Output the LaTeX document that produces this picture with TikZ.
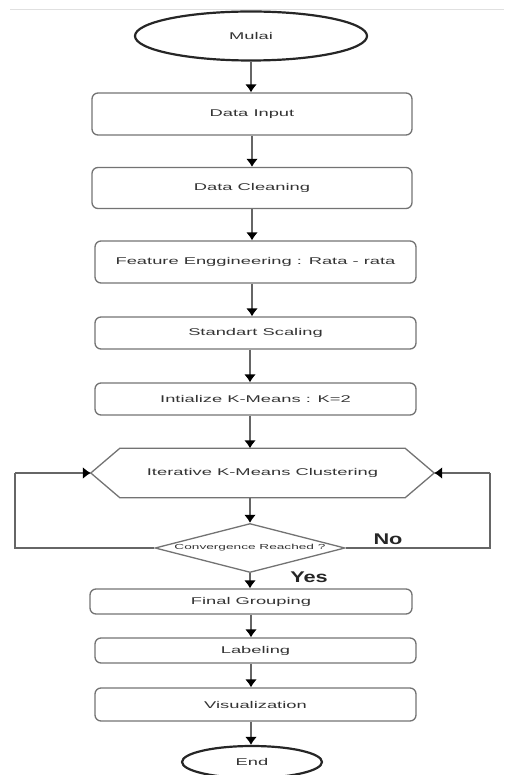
\documentclass[tikz,border=0pt]{standalone}
\usepackage{fontspec}
\setmainfont{Liberation Sans}[FakeStretch=1.87]
\newfontfamily\lblfont{Liberation Sans}[FakeStretch=1.4]
\usetikzlibrary{shapes.geometric, arrows.meta}

\begin{document}
\begin{tikzpicture}[x=1pt, y=1pt,
        box/.style={draw=black!55, line width=1.3pt, rounded corners=6pt, minimum width=321pt, inner sep=0pt, text=black!80, font=\fontsize{9.8}{11}\selectfont},
        term/.style={ellipse, draw=black!85, line width=2.2pt, inner sep=0pt, text=black!80, font=\fontsize{9.8}{11}\selectfont},
        arr/.style={draw=black!60, line width=1.8pt, -{Latex[length=8pt, width=12pt, color=black]}},
        loopline/.style={draw=black!60, line width=1.4pt},
        answer/.style={font=\lblfont\bfseries\fontsize{15.5}{17}\selectfont, text=black!85}]
        \useasboundingbox (0,0) rectangle (504,-775);
        \draw[black!12, line width=0.8pt] (10,-9) -- (504,-9);

        %start, steps, end
        \node[term, minimum width=232pt, minimum height=49pt] (start) at (251,-36) {Mulai};
        \node[box, minimum width=320pt, minimum height=42pt] (input) at (252,-114) {Data Input};
        \node[box, minimum width=320pt, minimum height=41pt] (clean) at (252,-188) {Data Cleaning};
        \node[box, minimum height=42pt] (feat) at (255.5,-262) {Feature Enggineering : Rata - rata};
        \node[box, minimum height=32pt] (scale) at (255.5,-333) {Standart Scaling};
        \node[box, minimum height=32pt] (init) at (255.5,-399) {Intialize K-Means : K=2};

        %hexagon
        \node[minimum width=343pt, minimum height=49pt, inner sep=0pt, text=black!80, font=\fontsize{9.8}{11}\selectfont] (iter) at (262.5,-473) {Iterative K-Means Clustering};
        \draw[black!55, line width=1.3pt] (iter.west) -- ([xshift=29pt]iter.north west) -- ([xshift=-29pt]iter.north east)
            -- (iter.east) -- ([xshift=-29pt]iter.south east) -- ([xshift=29pt]iter.south west) -- cycle;

        \node[diamond, aspect=3.9, draw=black!55, line width=1.3pt, minimum width=190pt, minimum height=49pt, inner sep=0pt, text=black!80, font=\fontsize{7.3}{8}\selectfont] (conv) at (250,-548) {Convergence Reached ?};

        \node[box, minimum width=322pt, minimum height=25pt] (final) at (251,-601.5) {Final Grouping};
        \node[box, minimum height=25pt] (label) at (255.5,-650.5) {Labeling};
        \node[box, minimum height=33pt] (vis) at (255.5,-704.5) {Visualization};
        \node[term, minimum width=140pt, minimum height=32pt] (finish) at (252,-762) {End};

        \coordinate (lp) at (15,-510);
        \coordinate (rp) at (490,-510);

        \draw[arr] (start) -- (start |- input.north);
        \draw[arr] (input) -- (input |- clean.north);
        \draw[arr] (clean) -- (clean |- feat.north);
        \draw[arr] (feat.south -| clean) -- (clean |- scale.north);
        \draw[arr] (scale.south -| conv) -- (conv |- init.north);
        \draw[arr] (init.south -| conv) -- (conv |- iter.north);
        \draw[arr] (iter.south -| conv) -- (conv.north);
        \draw[arr] (conv.south) -- (conv |- final.north);
        \draw[arr] (final.south -| start) -- (start |- label.north);
        \draw[arr] (label.south -| start) -- (start |- vis.north);
        \draw[arr] (vis.south -| start) -- (start |- finish.north);

        %loops back
        \draw[loopline] (conv.west) -- (conv.west -| lp) -- (lp |- iter.west);
        \draw[arr, line width=1.4pt] (lp |- iter.west) -- (iter.west);
        \draw[loopline] (conv.east) -- (conv.east -| rp) -- (rp |- iter.east);
        \draw[arr, line width=1.4pt] (rp |- iter.east) -- (iter.east);

        \node[answer] (no) at (388,-539) {No};
        \node[answer] (yes) at (309,-577) {Yes};
\end{tikzpicture}
\end{document}
